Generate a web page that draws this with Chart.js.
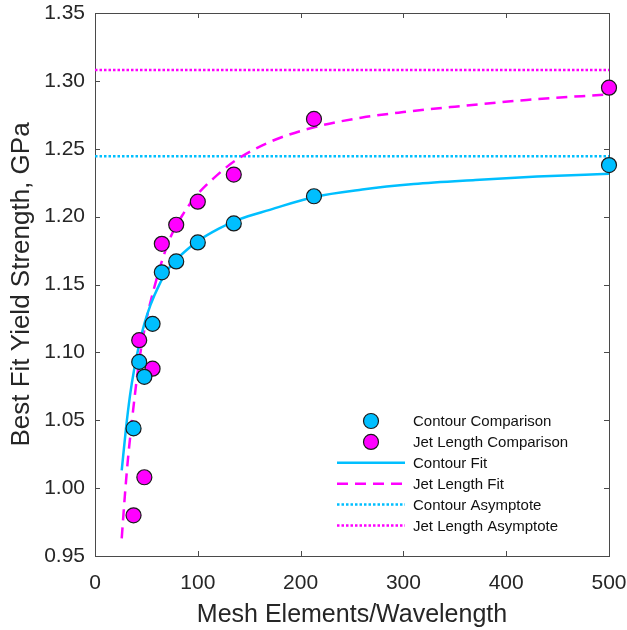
<!DOCTYPE html>
<html>
<head>
<meta charset="utf-8">
<script src="https://cdn.jsdelivr.net/npm/chart.js@4.4.0/dist/chart.umd.min.js"></script>
<style>
  html, body { margin: 0; padding: 0; background: #fff; }
</style>
</head>
<body>
<canvas id="chart" width="627" height="630"></canvas>
<script>
// measured data points
const meshX = [37.5, 43, 48, 56, 65, 79, 100, 135, 213, 500];
const contourY = [1.044, 1.093, 1.082, 1.121, 1.159, 1.167, 1.181, 1.195, 1.215, 1.238];
const jetY = [0.980, 1.109, 1.008, 1.088, 1.180, 1.194, 1.211, 1.231, 1.272, 1.295];

// fitted curves
const contourFitX = [26, 30, 34, 38, 43, 48, 54, 62, 70, 80, 90, 100, 120, 140, 170, 213, 260, 310, 370, 430, 500];
const contourFitY = [1.013, 1.043, 1.068, 1.087, 1.106, 1.121, 1.135, 1.149, 1.160, 1.169, 1.176, 1.182, 1.191, 1.198, 1.205, 1.2145, 1.220, 1.224, 1.227, 1.2295, 1.2315];
const jetFitX = [26, 29, 32, 36, 39, 43, 50, 57, 65, 73, 85, 97, 115, 136, 170, 214, 260, 300, 350, 420, 500];
const jetFitY = [0.963, 0.994, 1.021, 1.050, 1.070, 1.094, 1.124, 1.146, 1.167, 1.184, 1.201, 1.214, 1.228, 1.241, 1.255, 1.266, 1.273, 1.277, 1.281, 1.286, 1.290];

// asymptotes
const asymX = [0, 500];
const contourAsym = 1.2444;
const jetAsym = 1.308;

const CYAN = '#00BFFF';
const MAGENTA = '#FF00FF';
const FONT = "'Liberation Sans', Arial, Helvetica, sans-serif";
const TEXT = '#262626';

function pairs(xs, ys) {
    return xs.map(function (x, i) { return { x: x, y: ys[i] }; });
}
function flat(xs, v) {
    return xs.map(function (x) { return { x: x, y: v }; });
}
// stop chart.js from reserving extra room for label overhang
function noOverhang(scale) {
    scale.paddingLeft = 0;
    scale.paddingRight = 0;
    scale.paddingTop = 0;
    scale.paddingBottom = 0;
}

// box around the axes with inward ticks, like the original
const framePlugin = {
    id: 'frame',
    beforeDatasetsDraw(chart) {
        const { ctx, chartArea: a, scales } = chart;
        ctx.save();
        ctx.strokeStyle = '#4a4a4a';
        ctx.lineWidth = 1;
        ctx.strokeRect(Math.round(a.left) + 0.5, Math.round(a.top) + 0.5,
            Math.round(a.right - a.left), Math.round(a.bottom - a.top));
        const len = 5;
        ctx.beginPath();
        scales.x.ticks.forEach(function (t) {
            const px = Math.round(scales.x.getPixelForValue(t.value)) + 0.5;
            ctx.moveTo(px, a.bottom); ctx.lineTo(px, a.bottom - len);
            ctx.moveTo(px, a.top); ctx.lineTo(px, a.top + len);
        });
        scales.y.ticks.forEach(function (t) {
            const py = Math.round(scales.y.getPixelForValue(t.value)) + 0.5;
            ctx.moveTo(a.left, py); ctx.lineTo(a.left + len, py);
            ctx.moveTo(a.right, py); ctx.lineTo(a.right - len, py);
        });
        ctx.stroke();
        ctx.restore();
    }
};

// legend in the lower right, no box
const legendPlugin = {
    id: 'cornerLegend',
    afterDraw(chart) {
        const ctx = chart.ctx;
        const x0 = 337, x1 = 405, mx = 371, tx = 413;
        const y0 = 421, dy = 20.9;
        ctx.save();
        ctx.font = '15px ' + FONT;
        ctx.textBaseline = 'middle';
        chart.data.datasets.forEach(function (ds, i) {
            const y = y0 + i * dy;
            if (ds.showLine) {
                ctx.beginPath();
                ctx.strokeStyle = ds.borderColor;
                ctx.lineWidth = ds.borderWidth;
                ctx.setLineDash(ds.borderDash || []);
                ctx.moveTo(x0, y); ctx.lineTo(x1, y);
                ctx.stroke();
                ctx.setLineDash([]);
            } else {
                ctx.beginPath();
                ctx.arc(mx, y, ds.pointRadius, 0, Math.PI * 2);
                ctx.fillStyle = ds.backgroundColor;
                ctx.fill();
                ctx.strokeStyle = ds.borderColor;
                ctx.lineWidth = ds.borderWidth;
                ctx.stroke();
            }
            ctx.fillStyle = '#111';
            ctx.fillText(ds.label, tx, y + 1);
        });
        ctx.restore();
    }
};

const ctx = document.getElementById('chart').getContext('2d');

const chart = new Chart(ctx, {
    type: 'scatter',
    data: {
        datasets: [{
            label: 'Contour Comparison',
            data: pairs(meshX, contourY),
            showLine: false,
            pointRadius: 7.5,
            backgroundColor: CYAN,
            borderColor: '#1a1a1a',
            borderWidth: 1.2,
            clip: false
        }, {
            label: 'Jet Length Comparison',
            data: pairs(meshX, jetY),
            showLine: false,
            pointRadius: 7.5,
            backgroundColor: MAGENTA,
            borderColor: '#1a1a1a',
            borderWidth: 1.2,
            clip: false
        }, {
            label: 'Contour Fit',
            data: pairs(contourFitX, contourFitY),
            showLine: true,
            pointRadius: 0,
            borderColor: CYAN,
            borderWidth: 2.5,
            cubicInterpolationMode: 'monotone'
        }, {
            label: 'Jet Length Fit',
            data: pairs(jetFitX, jetFitY),
            showLine: true,
            pointRadius: 0,
            borderColor: MAGENTA,
            borderWidth: 2.5,
            borderDash: [11, 7],
            cubicInterpolationMode: 'monotone'
        }, {
            label: 'Contour Asymptote',
            data: flat(asymX, contourAsym),
            showLine: true,
            pointRadius: 0,
            borderColor: CYAN,
            borderWidth: 2.5,
            borderDash: [2.5, 2]
        }, {
            label: 'Jet Length Asymptote',
            data: flat(asymX, jetAsym),
            showLine: true,
            pointRadius: 0,
            borderColor: MAGENTA,
            borderWidth: 2.5,
            borderDash: [2.5, 2]
        }]
    },
    options: {
        responsive: false,
        animation: false,
        layout: { padding: { left: 0, right: 18, top: 13, bottom: 0 } },
        plugins: {
            legend: { display: false },
            tooltip: { enabled: false }
        },
        scales: {
            x: {
                type: 'linear',
                min: 0,
                max: 500,
                ticks: { stepSize: 100, color: TEXT, padding: 15, maxRotation: 0, font: { family: FONT, size: 21 } },
                grid: { display: false, drawTicks: false },
                border: { display: false },
                title: {
                    display: true,
                    text: 'Mesh Elements/Wavelength',
                    color: TEXT,
                    font: { family: FONT, size: 25 },
                    padding: { top: 2, bottom: 0 }
                },
                afterFit: function (scale) { scale.height = 74; noOverhang(scale); }
            },
            y: {
                min: 0.95,
                max: 1.35,
                ticks: {
                    stepSize: 0.05,
                    color: TEXT,
                    padding: 10,
                    font: { family: FONT, size: 21 },
                    callback: function (v) { return v.toFixed(2); }
                },
                grid: { display: false, drawTicks: false },
                border: { display: false },
                title: {
                    display: true,
                    text: 'Best Fit Yield Strength, GPa',
                    color: TEXT,
                    font: { family: FONT, size: 26 },
                    padding: { top: 6, bottom: 0 }
                },
                afterFit: function (scale) { scale.width = 95; noOverhang(scale); }
            }
        }
    },
    plugins: [framePlugin, legendPlugin]
});
</script>
</body>
</html>
